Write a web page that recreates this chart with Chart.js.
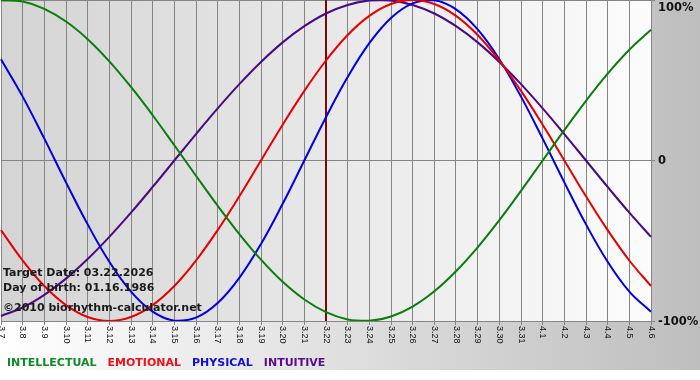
<!DOCTYPE html>
<html>
<head>
<meta charset="utf-8">
<script src="https://cdn.jsdelivr.net/npm/chart.js@4/dist/chart.umd.min.js"></script>
<style>
  html, body { margin: 0; padding: 0; background: #ffffff; }
  #wrap { width: 700px; height: 380px; }
</style>
</head>
<body>
<div id="wrap"><canvas id="c" width="700" height="380"></canvas></div>
<script>
// ---- data ----
const dayLabels = ['3.7','3.8','3.9','3.10','3.11','3.12','3.13','3.14','3.15','3.16','3.17','3.18','3.19','3.20','3.21','3.22','3.23','3.24','3.25','3.26','3.27','3.28','3.29','3.30','3.31','4.1','4.2','4.3','4.4','4.5','4.6'];
const intellectual = [0.999,0.990,0.945,0.866,0.756,0.618,0.458,0.282,0.095,-0.095,-0.282,-0.458,-0.618,-0.756,-0.866,-0.945,-0.990,-0.999,-0.972,-0.910,-0.815,-0.690,-0.541,-0.372,-0.189,0.000,0.189,0.372,0.541,0.690,0.815];
const emotional = [-0.434,-0.623,-0.782,-0.901,-0.975,-1.000,-0.975,-0.901,-0.782,-0.623,-0.434,-0.223,0.000,0.223,0.434,0.623,0.782,0.901,0.975,1.000,0.975,0.901,0.782,0.623,0.434,0.223,0.000,-0.223,-0.434,-0.623,-0.782];
const physical = [0.631,0.398,0.136,-0.136,-0.398,-0.631,-0.817,-0.942,-0.998,-0.979,-0.888,-0.731,-0.520,-0.270,0.000,0.270,0.520,0.731,0.888,0.979,0.998,0.942,0.817,0.631,0.398,0.136,-0.136,-0.398,-0.631,-0.817,-0.942];
const intuitive = [-0.969,-0.916,-0.837,-0.736,-0.614,-0.476,-0.325,-0.165,0.000,0.165,0.325,0.476,0.614,0.736,0.837,0.916,0.969,0.997,0.997,0.969,0.916,0.837,0.736,0.614,0.476,0.325,0.165,0.000,-0.165,-0.325,-0.476];
const seriesNames = ['INTELLECTUAL','EMOTIONAL','PHYSICAL','INTUITIVE'];
const yTickValues = [1, 0, -1];
const yTickLabels = ['100%', '0', '-100%'];
const targetLabel = '3.22';
const infoLines = ['Target Date: 03.22.2026', 'Day of birth: 01.16.1986', '\u00A92010 biorhythm-calculator.net'];

const colors = ['#0a7d0a', '#e80000', '#0000e0', '#4b0a82'];
const legendColors = ['#108a28', '#f0101a', '#1010d8', '#5a0a8e'];
const FONT = '"DejaVu Sans", Verdana, sans-serif';

const bgPlugin = {
  id: 'bg',
  beforeDraw(chart) {
    const ctx = chart.ctx, a = chart.chartArea;
    ctx.save();
    ctx.fillStyle = '#ffffff';
    ctx.fillRect(0, 0, chart.width, chart.height);
    const g = ctx.createLinearGradient(0, 0, chart.width, 0);
    g.addColorStop(0, '#ffffff');
    g.addColorStop(1, '#bebebe');
    ctx.fillStyle = g;
    ctx.fillRect(0, 0, chart.width, 370);
    const g2 = ctx.createLinearGradient(a.left, 0, a.right, 0);
    g2.addColorStop(0, '#d4d4d4');
    g2.addColorStop(1, '#fcfcfc');
    ctx.fillStyle = g2;
    ctx.fillRect(a.left, a.top, a.right - a.left, a.bottom - a.top);
    ctx.restore();
  },
  beforeDatasetsDraw(chart) {
    const ctx = chart.ctx, a = chart.chartArea;
    const x = chart.scales.x.getPixelForValue(dayLabels.indexOf(targetLabel));
    ctx.save();
    ctx.strokeStyle = '#7a0a0a';
    ctx.lineWidth = 2;
    ctx.beginPath();
    ctx.moveTo(Math.round(x), a.top);
    ctx.lineTo(Math.round(x), a.bottom);
    ctx.stroke();
    ctx.restore();
  },
  afterDraw(chart) {
    const ctx = chart.ctx, a = chart.chartArea;
    const xs = chart.scales.x, ys = chart.scales.y;
    ctx.save();
    // x tick labels, rotated clockwise
    ctx.fillStyle = '#111111';
    ctx.font = '9px "Liberation Sans", Arial, sans-serif';
    ctx.textAlign = 'left';
    ctx.textBaseline = 'middle';
    dayLabels.forEach((lab, i) => {
      const x = xs.getPixelForValue(i);
      ctx.save();
      ctx.translate(x, a.bottom + 5);
      ctx.rotate(Math.PI / 2);
      ctx.fillText(lab, 0, 0);
      ctx.restore();
    });
    // right y labels
    ctx.font = 'bold 11.5px ' + FONT;
    ctx.fillStyle = '#111111';
    ctx.textBaseline = 'middle';
    yTickValues.forEach((v, i) => {
      let y = ys.getPixelForValue(v);
      y = Math.max(y, 7);
      ctx.fillText(yTickLabels[i], a.right + 7, y + 1);
    });
    // info text
    ctx.font = 'bold 11px ' + FONT;
    ctx.fillStyle = '#1a1a1a';
    ctx.textBaseline = 'alphabetic';
    const baselines = [276, 291, 311];
    infoLines.forEach((t, i) => ctx.fillText(t, 3, baselines[i]));
    // legend
    let lx = 7;
    chart.data.datasets.forEach((ds, i) => {
      ctx.fillStyle = legendColors[i];
      ctx.fillText(ds.label, lx, 366);
      lx += ctx.measureText(ds.label).width + 11;
    });
    ctx.restore();
  }
};

const seriesData = [intellectual, emotional, physical, intuitive];
new Chart(document.getElementById('c'), {
  type: 'line',
  data: {
    labels: dayLabels,
    datasets: seriesData.map((d, i) => ({
      label: seriesNames[i],
      data: d,
      borderColor: colors[i],
      backgroundColor: colors[i],
      borderWidth: 2,
      pointRadius: 0,
      tension: 0.4,
      fill: false
    }))
  },
  options: {
    responsive: false,
    devicePixelRatio: 1,
    animation: false,
    events: [],
    layout: { padding: { left: 1, right: 45, top: 0, bottom: 55 } },
    plugins: { legend: { display: false }, tooltip: { enabled: false } },
    scales: {
      x: {
        type: 'category',
        offset: false,
        grid: { color: '#858585', lineWidth: 1, drawTicks: true, tickLength: 4 },
        border: { display: true, color: '#858585' },
        ticks: { display: false, autoSkip: false }
      },
      y: {
        position: 'right',
        min: -1, max: 1,
        grid: { color: '#858585', lineWidth: 1, drawTicks: true, tickLength: 4 },
        border: { display: true, color: '#858585' },
        ticks: { display: false, stepSize: 1 }
      }
    }
  },
  plugins: [bgPlugin]
});
</script>
</body>
</html>
